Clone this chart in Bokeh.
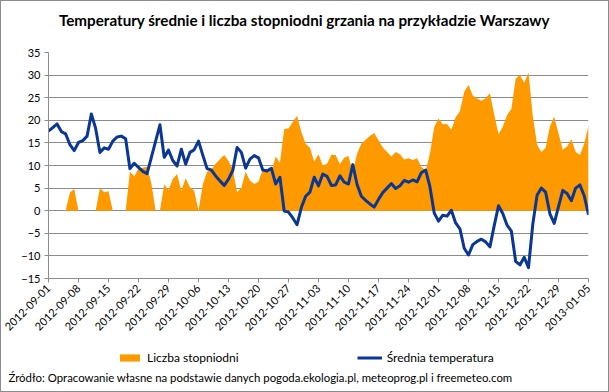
import math
import pandas as pd
from bokeh.plotting import figure
from bokeh.layouts import column
from bokeh.models import Range1d, FixedTicker, Legend, LegendItem, Label
from bokeh.embed import file_html
from bokeh.resources import INLINE

start_date = "2012-09-01"

temperature = [
    17.6, 18.4, 19.2, 17.5, 17.0, 14.6, 13.3, 15.1, 15.5, 16.5,
    21.4, 18.2, 12.9, 13.9, 13.6, 15.4, 16.3, 16.5, 15.9, 9.3,
    10.5, 9.6, 8.7, 8.2, 11.8, 15.4, 19.0, 11.8, 13.4, 11.1,
    9.9, 13.6, 10.3, 12.9, 13.5, 15.4, 12.3, 9.3, 9.0, 7.7,
    6.6, 5.6, 7.0, 8.9, 14.0, 12.9, 9.4, 11.4, 12.2, 11.7,
    9.0, 8.8, 9.4, 5.9, 7.4, -0.1, -0.3, -1.6, -3.1, 0.7,
    3.2, 4.1, 7.4, 5.5, 8.1, 7.6, 5.6, 5.7, 7.7, 6.3,
    5.9, 10.2, 5.8, 3.2, 2.3, 1.5, 0.8, 2.5, 4.0, 5.0,
    6.0, 4.9, 5.5, 6.7, 6.3, 6.8, 6.4, 8.4, 9.0, 5.3,
    -0.5, -2.3, -1.0, -1.2, 0.1, -2.7, -4.0, -8.3, -9.8, -7.5,
    -6.8, -6.3, -6.9, -8.0, -3.3, 1.1, -0.6, -3.2, -4.5, -11.2,
    -12.0, -10.3, -12.6, -3.0, 3.4, 5.0, 4.1, -0.7, -2.8, 0.9,
    4.5, 3.8, 2.2, 5.0, 5.7, 3.3, -0.9,
]

degree_days = [
    0, 0, 0, 0, 0, 4.0, 4.8, 0, 0, 0,
    0, 0, 5.0, 4.1, 4.3, 0, 0, 0, 0, 8.6,
    7.6, 9.3, 9.5, 9.7, 6.1, 0, 0, 5.8, 4.6, 7.0,
    8.1, 4.4, 7.2, 5.2, 4.4, 0, 5.8, 8.6, 9.1, 10.4,
    11.4, 12.3, 11.0, 9.2, 4.1, 5.1, 8.6, 6.7, 5.9, 6.4,
    9.1, 9.3, 8.6, 12.0, 10.6, 18.1, 18.2, 19.6, 21.0, 17.4,
    14.8, 13.9, 10.9, 12.5, 10.0, 10.4, 12.4, 12.3, 10.3, 11.7,
    12.1, 8.5, 12.6, 14.8, 15.7, 16.5, 17.2, 15.6, 14.0, 13.0,
    12.0, 13.0, 12.5, 11.3, 11.6, 11.2, 11.6, 9.7, 8.9, 12.6,
    18.5, 20.4, 19.1, 19.2, 17.9, 20.7, 22.0, 26.3, 27.8, 25.5,
    24.8, 24.3, 24.9, 26.0, 21.3, 16.9, 18.6, 21.2, 22.5, 29.2,
    30.0, 28.3, 30.6, 21.0, 14.6, 13.0, 13.9, 18.7, 20.8, 17.1,
    13.5, 14.2, 15.8, 13.0, 12.3, 14.8, 18.9,
]

tick_labels = [
    "2012-09-01", "2012-09-08", "2012-09-15", "2012-09-22", "2012-09-29",
    "2012-10-06", "2012-10-13", "2012-10-20", "2012-10-27", "2012-11-03",
    "2012-11-10", "2012-11-17", "2012-11-24", "2012-12-01", "2012-12-08",
    "2012-12-15", "2012-12-22", "2012-12-29", "2013-01-05",
]

y_ticks = [-15, -10, -5, 0, 5, 10, 15, 20, 25, 30, 35]

title_text = "Temperatury średnie i liczba stopniodni grzania na przykładzie Warszawy"
source_text = "Źródło: Opracowanie własne na podstawie danych pogoda.ekologia.pl, meteoprog.pl i freemeteo.com"
series_names = ["Liczba stopniodni", "Średnia temperatura"]

dates = pd.date_range(start_date, periods=len(temperature), freq="D")
date_str = [d.strftime("%Y-%m-%d") for d in dates]
x = list(range(len(temperature)))
tick_pos = [date_str.index(t) for t in tick_labels]

FONT = "Lato"
ORANGE = "#FF9900"
BLUE = "#0A3796"
GRID = "#8C8C8C"
W = 607
NAN = float("nan")


def text_panel(h):
    f = figure(width=W, height=h, output_backend="svg", toolbar_location=None,
               x_range=Range1d(0, W), y_range=Range1d(0, h),
               x_axis_type=None, y_axis_type=None, frame_align=False,
               min_border_left=0, min_border_right=0, min_border_top=0, min_border_bottom=0)
    f.outline_line_color = None
    f.xgrid.visible = False
    f.ygrid.visible = False
    f.background_fill_color = "white"
    f.border_fill_color = "white"
    return f


# ---- title panel ----
head = text_panel(40)
head.add_layout(Label(x=303, y=22, text=title_text, text_align="center", text_baseline="middle",
                      text_font=FONT, text_font_style="bold", text_font_size="15.2px",
                      text_color="black"))

# ---- main chart ----
fig = figure(width=W, height=303, output_backend="svg", toolbar_location=None,
             x_range=Range1d(0, len(x) - 1), y_range=Range1d(y_ticks[0], y_ticks[-1]),
             frame_align=False,
             min_border_left=47, min_border_right=20, min_border_top=11, min_border_bottom=66)
fig.outline_line_color = None
fig.background_fill_color = "white"
fig.border_fill_color = "white"

area = fig.varea(x=x, y1=[0] * len(x), y2=degree_days, fill_color=ORANGE)
line = fig.line(x=x, y=temperature, line_color=BLUE, line_width=3, line_join="round")

fig.xgrid.visible = False
fig.ygrid.grid_line_color = GRID
fig.ygrid.grid_line_width = 1

ya = fig.yaxis[0]
ya.ticker = FixedTicker(ticks=y_ticks)
ya.axis_line_color = GRID
ya.major_tick_line_color = GRID
ya.major_tick_out = 4
ya.major_tick_in = 0
ya.minor_tick_line_color = None
ya.major_label_text_font = FONT
ya.major_label_text_font_size = "11px"
ya.major_label_text_color = "black"
ya.major_label_standoff = 4

xa = fig.xaxis[0]
xa.ticker = FixedTicker(ticks=tick_pos)
xa.major_label_overrides = {pos: lab for pos, lab in zip(tick_pos, tick_labels)}
xa.major_label_orientation = math.pi / 4
xa.axis_line_color = GRID
xa.major_tick_line_color = GRID
xa.major_tick_out = 4
xa.major_tick_in = 0
xa.minor_tick_line_color = None
xa.major_label_text_font = FONT
xa.major_label_text_font_size = "11px"
xa.major_label_text_color = "black"
xa.major_label_standoff = 4

# ---- legend + source panel ----
foot = text_panel(47)
# legend proxies: styled like the chart's series, with no drawable values
sw_area = foot.varea(x=[NAN], y1=[NAN], y2=[NAN], fill_color=ORANGE)
sw_line = foot.line(x=[NAN], y=[NAN], line_color=BLUE, line_width=3)
legend = Legend(items=[LegendItem(label=series_names[0], renderers=[sw_area]),
                       LegendItem(label=series_names[1], renderers=[sw_line])],
                location=(116, 26), orientation="horizontal", padding=0, margin=0, spacing=118,
                border_line_color=None, background_fill_alpha=0,
                glyph_width=25, glyph_height=9, label_height=12, label_standoff=5,
                label_text_font=FONT, label_text_font_size="12px", label_text_color="black")
foot.add_layout(legend)
foot.add_layout(Label(x=7, y=14, text=source_text, text_align="left", text_baseline="middle",
                      text_font=FONT, text_font_size="11.4px", text_color="black"))

p = column(head, fig, foot, spacing=0)
p.styles = {"border": "1px solid #8C8C8C"}

open("out.html", "w").write(file_html(p, INLINE))
